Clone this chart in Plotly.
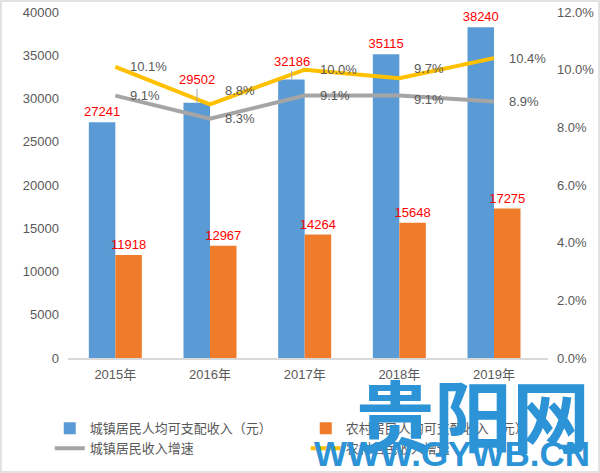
import plotly.graph_objects as go

years = ["2015年", "2016年", "2017年", "2018年", "2019年"]
urban_income = [27241, 29502, 32186, 35115, 38240]
rural_income = [11918, 12967, 14264, 15648, 17275]
urban_growth = [9.1, 8.3, 9.1, 9.1, 8.9]
rural_growth = [10.1, 8.8, 10.0, 9.7, 10.4]

names = ["城镇居民人均可支配收入（元）", "农村居民人均可支配收入（元）", "城镇居民收入增速", "农村居民收入增速"]

FONT = "Liberation Sans, Noto Sans CJK SC, sans-serif"
GRAY = "#595959"

# labels displaced with a leader line (as in the original) for these bars
displaced = {1: -23, 2: -18}
urban_text = ["" if i in displaced else str(v) for i, v in enumerate(urban_income)]

fig = go.Figure()
fig.add_trace(go.Bar(x=years, y=urban_income, name=names[0],
                     marker=dict(color="#5B9BD5", line=dict(width=0)),
                     text=urban_text, textposition="outside", cliponaxis=False,
                     constraintext="none",
                     textfont=dict(color="#FF0000", size=13, family=FONT)))
fig.add_trace(go.Bar(x=years, y=rural_income, name=names[1],
                     marker=dict(color="#F07C2B", line=dict(width=0)),
                     text=rural_income, textposition="outside", cliponaxis=False,
                     constraintext="none",
                     textfont=dict(color="#FF0000", size=13, family=FONT)))
fig.add_trace(go.Scatter(x=years, y=urban_growth, name=names[2], mode="lines", yaxis="y2",
                         line=dict(color="#A5A5A5", width=4)))
fig.add_trace(go.Scatter(x=years, y=rural_growth, name=names[3], mode="lines", yaxis="y2",
                         line=dict(color="#FFC000", width=4)))

for i, ay in displaced.items():
    fig.add_annotation(x=years[i], y=urban_income[i], xshift=-13, text=str(urban_income[i]),
                       showarrow=True, arrowhead=0, arrowwidth=1, arrowcolor="#A6A6A6",
                       ax=0, ay=ay, font=dict(color="#FF0000", size=13, family=FONT))

# line value labels
yshift_u = [0, 0, 0, -4, 0]
yshift_r = [0, 14, 0, 10, 0]
for i, yr in enumerate(years):
    fig.add_annotation(x=yr, y=urban_growth[i], yref="y2", text=f"{urban_growth[i]:.1f}%",
                       showarrow=False, xanchor="left", xshift=13, yshift=yshift_u[i],
                       font=dict(color=GRAY, size=13, family=FONT))
    fig.add_annotation(x=yr, y=rural_growth[i], yref="y2", text=f"{rural_growth[i]:.1f}%",
                       showarrow=False, xanchor="left", xshift=13, yshift=yshift_r[i],
                       font=dict(color=GRAY, size=13, family=FONT))

# watermark
fig.add_annotation(xref="paper", yref="paper", x=1.092, y=-0.16, xanchor="right", yanchor="middle",
                   text="<b>贵阳网</b>", showarrow=False,
                   font=dict(color="#2B93D6", size=78, family="Noto Sans CJK SC"))
fig.add_annotation(xref="paper", yref="paper", x=1.092, y=-0.275, xanchor="right", yanchor="middle",
                   text="<b>WWW.GYWB.CN</b>", showarrow=False,
                   font=dict(color="#2B93D6", size=35, family="Liberation Sans, sans-serif"))

fig.update_layout(
    width=600, height=473,
    margin=dict(l=68, r=52, t=12, b=115, autoexpand=False),
    paper_bgcolor="white", plot_bgcolor="white",
    barmode="group", bargap=0.44, bargroupgap=0,
    font=dict(family=FONT, color=GRAY, size=13),
    showlegend=True,
    legend=dict(orientation="h", x=-0.038, y=-0.16, xanchor="left", yanchor="top",
                entrywidth=211, entrywidthmode="pixels", traceorder="normal",
                font=dict(size=13, color=GRAY, family="Noto Sans CJK SC"),
                itemwidth=30, tracegroupgap=4),
    xaxis=dict(showgrid=False, showline=True, linecolor="#D9D9D9", linewidth=1.5,
               ticks="", tickfont=dict(size=13, color=GRAY), ticklabelstandoff=4),
    yaxis=dict(range=[0, 40000], dtick=5000, tickformat="d", showgrid=False, zeroline=False,
               showline=False, ticks="", tickfont=dict(size=13, color=GRAY), ticklabelstandoff=8),
    yaxis2=dict(range=[0, 12], dtick=2, overlaying="y", side="right", showgrid=False,
                zeroline=False, showline=False, ticks="", tickformat=".1f", ticksuffix="%",
                tickfont=dict(size=13, color=GRAY), ticklabelstandoff=8),
    shapes=[dict(type="rect", xref="paper", yref="paper",
                 x0=-68/480 + 0.002, x1=1 + 52/480 - 0.002, y0=-115/346 + 0.003, y1=1 + 12/346 - 0.003,
                 line=dict(color="#D9D9D9", width=1.5), fillcolor="rgba(0,0,0,0)")],
)

fig.write_html("out.html", config={"displayModeBar": False},
               post_script="document.body.style.margin='0px';")
